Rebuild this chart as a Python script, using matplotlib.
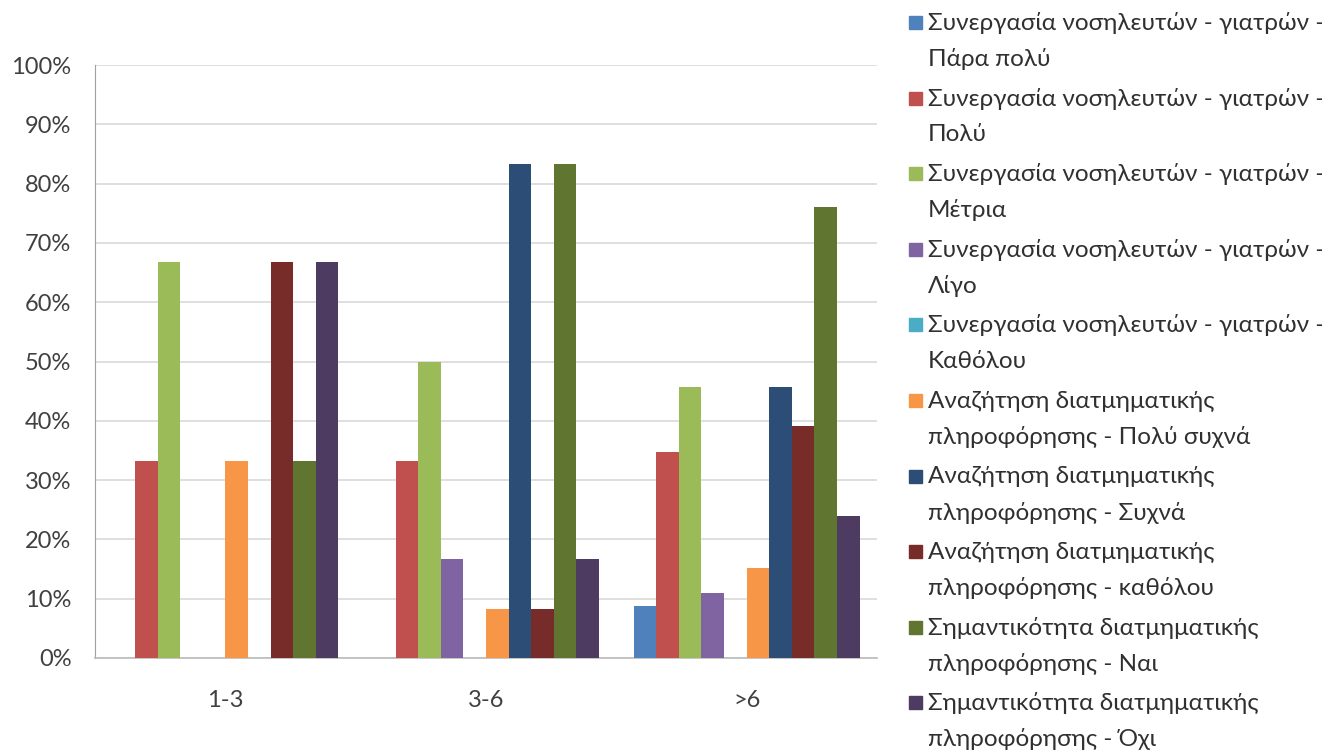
import numpy as np
import matplotlib
matplotlib.use('Agg')
import matplotlib.pyplot as plt
from matplotlib.patches import Rectangle
from matplotlib.ticker import PercentFormatter

plt.rcParams['font.family'] = ['Lato', 'DejaVu Sans']

# years of service groups
groups = ['1-3', '3-6', '>6']

series_names = [
    'Συνεργασία νοσηλευτών - γιατρών -\nΠάρα πολύ',
    'Συνεργασία νοσηλευτών - γιατρών -\nΠολύ',
    'Συνεργασία νοσηλευτών - γιατρών -\nΜέτρια',
    'Συνεργασία νοσηλευτών - γιατρών -\nΛίγο',
    'Συνεργασία νοσηλευτών - γιατρών -\nΚαθόλου',
    'Αναζήτηση διατμηματικής\nπληροφόρησης - Πολύ συχνά',
    'Αναζήτηση διατμηματικής\nπληροφόρησης - Συχνά',
    'Αναζήτηση διατμηματικής\nπληροφόρησης - καθόλου',
    'Σημαντικότητα διατμηματικής\nπληροφόρησης - Ναι',
    'Σημαντικότητα διατμηματικής\nπληροφόρησης - Όχι',
]

# percentages per group (1-3, 3-6, >6)
para_poly      = [0.0, 0.0, 8.7]
poly           = [33.3, 33.3, 34.8]
metria         = [66.7, 50.0, 45.7]
ligo           = [0.0, 16.7, 10.9]
katholou       = [0.0, 0.0, 0.0]
anaz_poly      = [33.3, 8.3, 15.2]
anaz_syxna     = [0.0, 83.3, 45.7]
anaz_katholou  = [66.7, 8.3, 39.1]
shmant_nai     = [33.3, 83.3, 76.1]
shmant_oxi     = [66.7, 16.7, 23.9]

values = [para_poly, poly, metria, ligo, katholou,
          anaz_poly, anaz_syxna, anaz_katholou, shmant_nai, shmant_oxi]

colors = ['#4F81BD', '#C0504D', '#9BBB59', '#8064A2', '#4BACC6',
          '#F79646', '#2C4D75', '#772C2A', '#5F7530', '#4D3B62']

W, H = 1322, 756
fig = plt.figure(figsize=(W/100, H/100), dpi=100)
ax = fig.add_axes([95/W, 1 - 658/H, (877 - 95)/W, (658 - 65)/H])

x = np.arange(len(groups))
n = len(values)
span = 0.867
w = span / n
for i, (vals, col) in enumerate(zip(values, colors)):
    ax.bar(x - span/2 + w*(i + 0.5), np.array(vals)/100, w,
           color=col, label=series_names[i], zorder=3)

ax.set_xlim(-0.5, 2.5)
ax.set_ylim(0, 1)
ax.set_yticks(np.arange(0, 1.01, 0.1))
ax.yaxis.set_major_formatter(PercentFormatter(1.0, decimals=0))
ax.set_xticks(x)
ax.set_xticklabels(groups)
ax.grid(axis='y', color='#D9D9D9', linewidth=1.2, zorder=0)
for s in ['top', 'right']:
    ax.spines[s].set_visible(False)
ax.spines['left'].set_color('#A0A0A0')
ax.spines['bottom'].set_color('#BBBBBB')
ax.spines['bottom'].set_linewidth(1.2)
ax.tick_params(axis='y', length=0, pad=17, labelsize=17, colors='#404040')
ax.tick_params(axis='x', length=0, pad=23, labelsize=17, colors='#404040')

# legend on the right: square marker next to the first line of each entry
pitch = 75.6
for i, (name, col) in enumerate(zip(series_names, colors)):
    y0 = 23 + pitch*i
    fig.add_artist(Rectangle((909/W, 1 - (y0 + 6)/H), 13/W, 13/H,
                             color=col, transform=fig.transFigure))
    for k, line in enumerate(name.split('\n')):
        fig.text(928/W, 1 - (y0 + 36*k)/H, line, fontsize=17.5,
                 color='#303030', va='center', ha='left')

fig.savefig('out.png', dpi=100)
